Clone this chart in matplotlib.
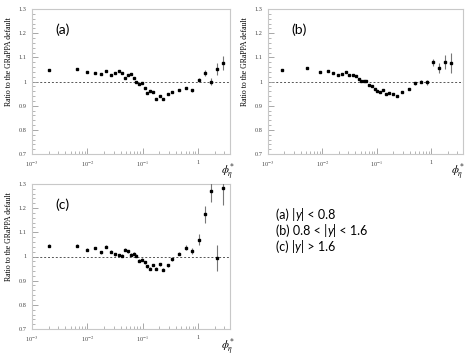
import matplotlib
matplotlib.use("Agg")
import matplotlib.pyplot as plt
import numpy as np
from matplotlib.ticker import LogLocator, FixedLocator, MultipleLocator, NullFormatter

# phi_eta* bin centres (same binning for all three panels)
phi = [0.0020, 0.0064, 0.0100, 0.0140, 0.0180, 0.0220, 0.0270, 0.0320, 0.0370,
       0.0420, 0.0480, 0.0540, 0.0610, 0.0690, 0.0770, 0.0870, 0.0970, 0.1090,
       0.1220, 0.1360, 0.1520, 0.1750, 0.2040, 0.2380, 0.2850, 0.3460, 0.4520,
       0.5970, 0.7890, 1.0300, 1.3200, 1.7000, 2.2400, 2.8800]

ratio_a = [1.048, 1.051, 1.039, 1.035, 1.033, 1.042, 1.026, 1.035, 1.043,
           1.036, 1.013, 1.028, 1.031, 1.015, 0.996, 0.990, 0.993, 0.974,
           0.954, 0.960, 0.957, 0.929, 0.938, 0.928, 0.950, 0.957, 0.964,
           0.975, 0.963, 1.006, 1.035, 0.999, 1.051, 1.076]
err_a = [0.004] * 28 + [0.006, 0.008, 0.012, 0.015, 0.025, 0.030]

ratio_b = [1.046, 1.056, 1.039, 1.044, 1.037, 1.025, 1.029, 1.039, 1.025,
           1.028, 1.022, 1.010, 1.003, 1.003, 1.004, 0.986, 0.982, 0.971,
           0.960, 0.958, 0.965, 0.948, 0.952, 0.948, 0.940, 0.958, 0.971,
           0.993, 1.000, 0.997, 1.080, 1.055, 1.080, 1.077]
phi_b = [0.0018, 0.0053, 0.0089, 0.0125, 0.0158, 0.0190, 0.0230, 0.0270, 0.0310,
         0.0360, 0.0410, 0.0460, 0.0520, 0.0580, 0.0640, 0.0730, 0.0810, 0.0910,
         0.1000, 0.1120, 0.1280, 0.1470, 0.1690, 0.1990, 0.2350, 0.2930, 0.3810,
         0.4950, 0.6520, 0.8360, 1.0700, 1.3700, 1.8100, 2.3200]
err_b = [0.004] * 27 + [0.006, 0.008, 0.010, 0.015, 0.020, 0.030, 0.040]

ratio_c = [1.044, 1.044, 1.028, 1.035, 1.018, 1.040, 1.019, 1.010, 1.006,
           1.003, 1.028, 1.022, 1.008, 1.012, 1.003, 0.982, 0.986, 0.977,
           0.960, 0.949, 0.965, 0.949, 0.968, 0.946, 0.963, 0.989, 1.011,
           1.037, 1.023, 1.070, 1.175, 1.272, 0.993, 1.283]
err_c = [0.006] * 27 + [0.010, 0.012, 0.022, 0.035, 0.045, 0.055, 0.070]

panel_labels = ["(a)", "(b)", "(c)"]
# each legend line: text before the italic y, text after it
legend_parts = [("(a) |", "| < 0.8"), ("(b) 0.8 < |", "| < 1.6"), ("(c) |", "| > 1.6")]

W, H = 476, 358
plt.rcParams["font.family"] = ["Liberation Serif", "DejaVu Serif"]
plt.rcParams["mathtext.fontset"] = "stix"
fig = plt.figure(figsize=(W / 100, H / 100), dpi=100)


def px_axes(left, top, right, bottom):
    return fig.add_axes([left / W, 1 - bottom / H, (right - left) / W, (bottom - top) / H])


boxes = [(32, 9, 230, 154), (268, 9, 463, 154), (32, 184, 230, 329)]
xlab_pos = [(228, 172), (458, 172), (228, 347)]
datasets = [(phi, ratio_a, err_a), (phi_b, ratio_b, err_b), (phi, ratio_c, err_c)]

for box, lab, (xs, ys, es), xl in zip(boxes, panel_labels, datasets, xlab_pos):
    ax = px_axes(*box)
    ax.set_xscale("log")
    ax.set_xlim(1e-3, 3.8)
    ax.set_ylim(0.7, 1.3)
    ax.axhline(1.0, color="#555555", lw=0.7, ls=(0, (2, 2)), zorder=1)
    ax.errorbar(xs, ys, yerr=es, fmt="s", ms=1.5, color="black", ecolor="#777777",
                elinewidth=0.8, capsize=0, zorder=3)
    for sp in ax.spines.values():
        sp.set_color("#c8c8c8")
        sp.set_linewidth(0.8)
    ax.xaxis.set_major_locator(FixedLocator([1e-3, 1e-2, 1e-1, 1]))
    ax.xaxis.set_minor_locator(LogLocator(base=10, subs=np.arange(2, 10)))
    ax.xaxis.set_minor_formatter(NullFormatter())
    ax.set_xticklabels(["10$^{-3}$", "10$^{-2}$", "10$^{-1}$", "1"])
    ax.yaxis.set_minor_locator(MultipleLocator(0.02))
    ax.set_yticks([0.7, 0.8, 0.9, 1.0, 1.1, 1.2, 1.3])
    ax.set_yticklabels(["0.7", "0.8", "0.9", "1", "1.1", "1.2", "1.3"])
    ax.tick_params(which="both", direction="in", color="#999999", labelsize=4.5,
                   labelcolor="#444444", pad=4)
    ax.tick_params(which="major", length=4, width=0.6)
    ax.tick_params(which="minor", length=2, width=0.5)
    ax.set_ylabel("Ratio to the GRaPPA default", fontsize=5.6)
    ax.yaxis.set_label_coords(-0.095, 0.64)
    ax.text(0.12, 0.86, lab, transform=ax.transAxes, fontsize=10,
            family=["Lato", "DejaVu Sans"], va="center")
    fig.text(xl[0] / W, 1 - xl[1] / H, r"$\phi_{\eta}^{*}$", fontsize=8,
             ha="center", va="center")

# legend block, built piece by piece so the y can be italic
sans = ["Lato", "DejaVu Sans"]
for i, (pre, post) in enumerate(legend_parts):
    yb = 1 - (219 + 16 * i) / H
    t1 = fig.text(276 / W, yb, pre, fontsize=9, family=sans, va="baseline")
    t2 = ax.annotate("y", xy=(1, yb), xycoords=(t1, "figure fraction"), fontsize=9,
                     family=sans, style="italic", va="baseline")
    ax.annotate(post, xy=(1, yb), xycoords=(t2, "figure fraction"), fontsize=9,
                family=sans, va="baseline")

fig.savefig("out.png", dpi=100)
